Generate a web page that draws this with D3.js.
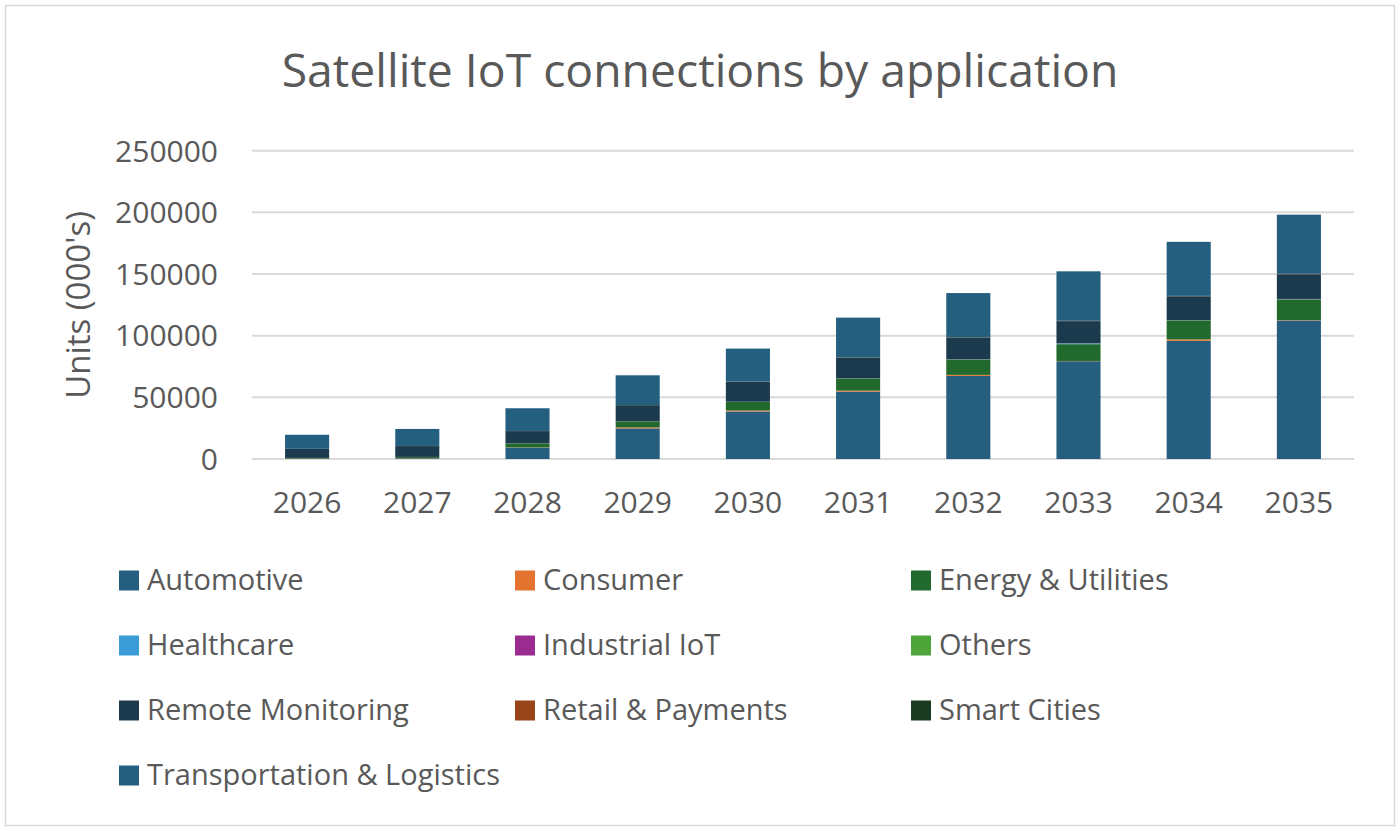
<!DOCTYPE html>
<html>
<head>
<meta charset="utf-8">
<script src="https://cdn.jsdelivr.net/npm/d3@7"></script>
<style>
  html, body { margin: 0; padding: 0; background: #fff; }
  svg { display: block; }
  text { font-family: "Open Sans", sans-serif; fill: #595959; }
</style>
</head>
<body>
<svg id="chart" width="1400" height="831"></svg>
<script>
const years = ["2026","2027","2028","2029","2030","2031","2032","2033","2034","2035"];
const seriesNames = ["Automotive","Consumer","Energy & Utilities","Healthcare","Industrial IoT","Others","Remote Monitoring","Retail & Payments","Smart Cities","Transportation & Logistics"];
const seriesColors = ["#255e7f","#e3732f","#21692c","#3a9bd6","#9a2c8f","#4ea63a","#1c3a4d","#9a4419","#1b3a22","#245f80"];

const automotive   = [200, 500, 9200, 24800, 38500, 54600, 67400, 79300, 95800, 112300];
const consumer     = [100, 200, 200, 800, 800, 800, 800, 200, 1200, 300];
const energy       = [500, 900, 3300, 4900, 7000, 10000, 12400, 13600, 15400, 16800];
const healthcare   = [20, 20, 30, 30, 40, 50, 60, 500, 80, 90];
const industrial   = [30, 30, 50, 50, 60, 80, 100, 100, 120, 150];
const others       = [30, 30, 50, 50, 60, 80, 100, 100, 120, 150];
const remote       = [7300, 8800, 9800, 13000, 16100, 16700, 17700, 18000, 19200, 20000];
const retail       = [20, 30, 40, 50, 60, 80, 100, 100, 120, 150];
const smartCities  = [50, 60, 80, 100, 120, 150, 200, 200, 250, 300];
const transport    = [11400, 13800, 18400, 24100, 26800, 32100, 35700, 40100, 43800, 47900];

const yTicks = [0, 50000, 100000, 150000, 200000, 250000];

const seriesValues = [automotive, consumer, energy, healthcare, industrial, others, remote, retail, smartCities, transport];

const table = years.map((y, i) => {
  const row = { year: y };
  seriesNames.forEach((s, k) => row[s] = seriesValues[k][i]);
  return row;
});

const svg = d3.select("#chart");

// outer border
svg.append("rect").attr("x", 5.5).attr("y", 5.5).attr("width", 1389).attr("height", 820)
  .attr("fill", "#fff").attr("stroke", "#d9d9d9").attr("stroke-width", 1.5);

const x = d3.scaleBand().domain(years).range([252, 1354]).paddingInner(0.6).paddingOuter(0.3);
const y = d3.scaleLinear().domain([0, 250000]).range([459, 150.7]);

// gridlines
svg.append("g").selectAll("line").data(yTicks).join("line")
  .attr("x1", 252).attr("x2", 1354)
  .attr("y1", d => y(d)).attr("y2", d => y(d))
  .attr("stroke", "#d9d9d9").attr("stroke-width", 2);

// y tick labels
svg.append("g").selectAll("text").data(yTicks).join("text")
  .attr("x", 218).attr("y", d => y(d)).attr("dy", "0.36em")
  .attr("text-anchor", "end").attr("font-size", 30)
  .text(d => d);

// stacked bars
const stack = d3.stack().keys(seriesNames);
const stacked = stack(table);
svg.append("g").selectAll("g").data(stacked).join("g")
  .attr("fill", (d, i) => seriesColors[i])
  .selectAll("rect").data(d => d).join("rect")
  .attr("x", d => x(d.data.year))
  .attr("width", x.bandwidth())
  .attr("y", d => y(d[1]))
  .attr("height", d => Math.max(0, y(d[0]) - y(d[1])));

// x labels
svg.append("g").selectAll("text").data(years).join("text")
  .attr("x", d => x(d) + x.bandwidth() / 2).attr("y", 513)
  .attr("text-anchor", "middle").attr("font-size", 30)
  .text(d => d);

// title
svg.append("text").attr("x", 700).attr("y", 87).attr("text-anchor", "middle")
  .attr("font-size", 46.3).text("Satellite IoT connections by application");

// y axis label
svg.append("text").attr("transform", "translate(90,305) rotate(-90)")
  .attr("text-anchor", "middle").attr("font-size", 33).text("Units (000's)");

// legend
const legCols = [119, 515, 911];
const legRows = [580.5, 645.5, 710.5, 775.5];
const leg = svg.append("g").selectAll("g").data(seriesNames).join("g")
  .attr("transform", (d, i) => `translate(${legCols[i % 3]},${legRows[Math.floor(i / 3)]})`);
leg.append("rect").attr("x", 0).attr("y", -10).attr("width", 20).attr("height", 20)
  .attr("fill", (d, i) => seriesColors[i]);
leg.append("text").attr("x", 28).attr("y", 0).attr("dy", "0.34em")
  .attr("font-size", 29).text(d => d);
</script>
</body>
</html>
